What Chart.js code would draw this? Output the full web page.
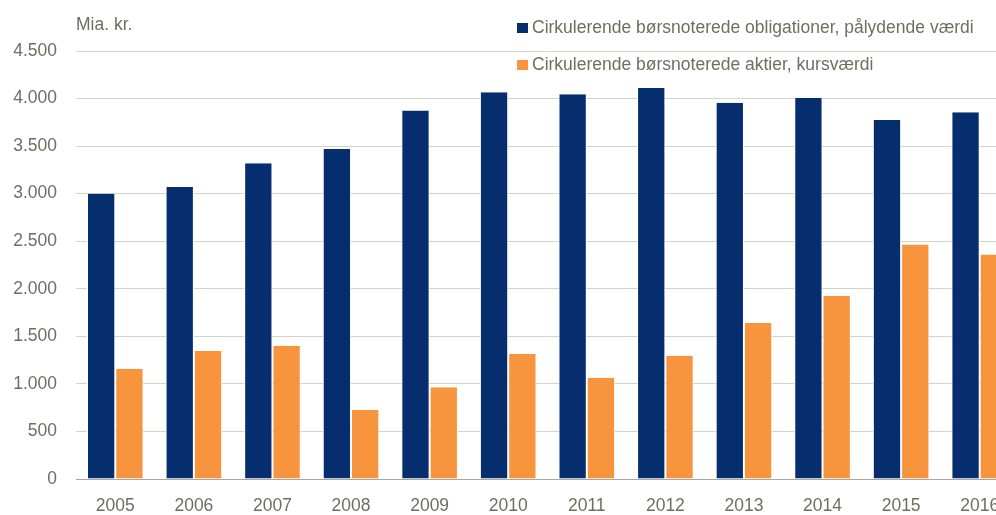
<!DOCTYPE html>
<html>
<head>
<meta charset="utf-8">
<script src="https://cdn.jsdelivr.net/npm/chart.js@4/dist/chart.umd.min.js"></script>
<style>
  html, body { margin: 0; padding: 0; background: #fff; overflow: hidden; }
  #wrap { width: 996px; height: 515px; overflow: hidden; position: relative; }
  #box { width: 1020px; height: 515px; position: absolute; left: 0; top: 0; }
</style>
</head>
<body>
<div id="wrap"><div id="box"><canvas id="chart"></canvas></div></div>
<script>
const years = ["2005", "2006", "2007", "2008", "2009", "2010", "2011", "2012", "2013", "2014", "2015", "2016"];
const obligationer = [3000, 3070, 3320, 3470, 3875, 4065, 4045, 4110, 3955, 4005, 3775, 3855];
const aktier = [1160, 1345, 1400, 725, 965, 1315, 1065, 1295, 1640, 1925, 2465, 2360];
const seriesNames = [
  "Cirkulerende børsnoterede obligationer, pålydende værdi",
  "Cirkulerende børsnoterede aktier, kursværdi"
];
const unitLabel = "Mia. kr.";

const blue = "#062d6e";
const orange = "#f7943d";
const textColor = "#6f6f60";
const fontFamily = "'Liberation Sans', Arial, sans-serif";

// number format like 4.500
const fmt = v => v.toLocaleString("da-DK");

// unit label and legend drawn on top of the plot
const overlay = {
  id: "overlay",
  afterDraw(chart) {
    const ctx = chart.ctx;
    ctx.save();
    ctx.font = "17.5px " + fontFamily;
    ctx.fillStyle = textColor;
    ctx.textBaseline = "middle";
    ctx.textAlign = "left";
    ctx.fillText(unitLabel, 76, 25);

    const items = [
      { text: seriesNames[0], color: blue, y: 28 },
      { text: seriesNames[1], color: orange, y: 65 }
    ];
    items.forEach(it => {
      ctx.fillStyle = it.color;
      ctx.fillRect(517, it.y - 5, 11, 10);
      ctx.fillStyle = textColor;
      ctx.fillText(it.text, 532, it.y);
    });
    ctx.restore();
  }
};

new Chart(document.getElementById("chart"), {
  type: "bar",
  data: {
    labels: years,
    datasets: [
      {
        label: seriesNames[0],
        data: obligationer,
        backgroundColor: blue,
        borderColor: "#ffffff",
        borderWidth: { left: 1, right: 1 },
        borderSkipped: false,
        barPercentage: 1,
        categoryPercentage: 0.72
      },
      {
        label: seriesNames[1],
        data: aktier,
        backgroundColor: orange,
        borderColor: "#ffffff",
        borderWidth: { left: 1, right: 1 },
        borderSkipped: false,
        barPercentage: 1,
        categoryPercentage: 0.72
      }
    ]
  },
  options: {
    responsive: true,
    maintainAspectRatio: false,
    animation: false,
    layout: { padding: { top: 51, right: 1, left: 0, bottom: 0 } },
    plugins: {
      legend: { display: false },
      tooltip: { enabled: false }
    },
    scales: {
      x: {
        afterFit(scale) { scale.height = 36; },
        grid: { display: false },
        border: { display: true, color: "#a8a8a0", width: 1 },
        ticks: {
          color: textColor,
          font: { family: fontFamily, size: 17.5 },
          padding: 9
        }
      },
      y: {
        min: 0,
        max: 4500,
        afterFit(scale) { scale.width = 76; },
        border: { display: false },
        grid: {
          color: ctx => ctx.tick && ctx.tick.value === 0 ? "rgba(0,0,0,0)" : "#d3d3c8",
          lineWidth: 1,
          drawTicks: false
        },
        ticks: {
          stepSize: 500,
          color: textColor,
          font: { family: fontFamily, size: 17.5 },
          padding: 19,
          callback: v => fmt(v)
        }
      }
    }
  },
  plugins: [overlay]
});
</script>
</body>
</html>
